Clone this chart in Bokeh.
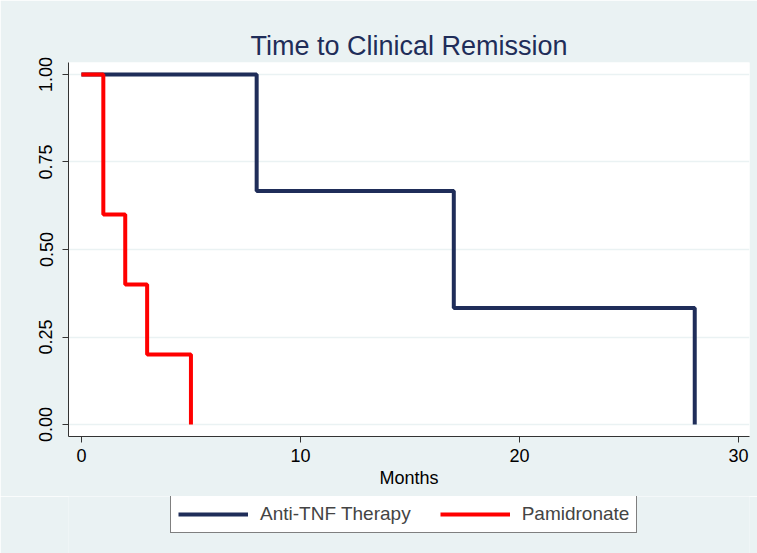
from bokeh.plotting import figure
from bokeh.models import Legend, LegendItem, FixedTicker, Range1d, Title
from bokeh.layouts import column
from bokeh.embed import file_html
from bokeh.resources import INLINE

# Data
tnf_time = [0, 8, 8, 17, 17, 28, 28]
tnf_surv = [1.0, 1.0, 0.6667, 0.6667, 0.3333, 0.3333, 0.0]
pam_time = [0, 1, 1, 2, 2, 3, 3, 5, 5]
pam_surv = [1.0, 1.0, 0.6, 0.6, 0.4, 0.4, 0.2, 0.2, 0.0]
x_ticks = [0, 10, 20, 30]
y_ticks = [0, 0.25, 0.5, 0.75, 1.0]
y_tick_labels = ["0.00", "0.25", "0.50", "0.75", "1.00"]
series_names = ["Anti-TNF Therapy", "Pamidronate"]

BG = "#eaf2f3"
NAVY = "#1f2d59"
RED = "#ff0000"
FONT = "Liberation Sans"

p = figure(frame_width=681, frame_height=374, output_backend="svg", toolbar_location=None,
           x_range=Range1d(-0.59, 30.5), y_range=Range1d(-0.034, 1.034),
           min_border_left=68, min_border_right=8, min_border_top=62,
           min_border_bottom=60)
p.border_fill_color = BG
p.background_fill_color = "white"
p.outline_line_color = None

p.title = Title(text="Time to Clinical Remission", align="center",
                text_font=FONT, text_font_size="27px", text_font_style="normal",
                text_color=NAVY, standoff=4)

r1 = p.line(tnf_time, tnf_surv, line_color=NAVY, line_width=4)
r2 = p.line(pam_time, pam_surv, line_color=RED, line_width=4)

p.xgrid.visible = False
p.ygrid.ticker = FixedTicker(ticks=y_ticks)
p.ygrid.grid_line_color = BG
p.ygrid.grid_line_width = 1.5

p.xaxis.ticker = FixedTicker(ticks=x_ticks)
p.yaxis.ticker = FixedTicker(ticks=y_ticks)
p.yaxis.major_label_overrides = {t: l for t, l in zip(y_ticks, y_tick_labels)}
p.yaxis.major_label_orientation = "vertical"
p.xaxis.axis_label = "Months"

for ax in (p.xaxis[0], p.yaxis[0]):
    ax.axis_line_color = "#333333"
    ax.axis_line_width = 1
    ax.major_tick_line_color = "#333333"
    ax.major_tick_out = 6
    ax.major_tick_in = 0
    ax.minor_tick_line_color = None
    ax.major_label_text_font = FONT
    ax.major_label_text_font_size = "18px"
    ax.major_label_text_color = "black"
    ax.axis_label_text_font = FONT
    ax.axis_label_text_font_size = "18px"
    ax.axis_label_text_font_style = "normal"
    ax.axis_label_text_color = "black"
p.xaxis.major_label_standoff = 6
p.yaxis.major_label_standoff = 10
p.xaxis.axis_label_standoff = 3

# Legend strip below the chart (frame aligned with the main plot)
p2 = figure(width=757, height=57, output_backend="svg", toolbar_location=None,
            x_axis_location=None, y_axis_location=None,
            x_range=Range1d(0, 1), y_range=Range1d(0, 1),
            min_border_left=68, min_border_right=8, min_border_top=0,
            min_border_bottom=0)
p2.border_fill_color = BG
p2.background_fill_color = BG
p2.outline_line_color = None
p2.grid.visible = False
# legend-only renderers, kept outside the visible range
l1 = p2.line([-5, -4], [-5, -4], line_color=NAVY, line_width=4)
l2 = p2.line([-5, -4], [-5, -4], line_color=RED, line_width=4)

legend = Legend(items=[LegendItem(label=series_names[0], renderers=[l1]),
                       LegendItem(label=series_names[1], renderers=[l2])],
                orientation="horizontal", location=(102, 20),
                label_text_font=FONT, label_text_font_size="19px",
                glyph_width=70, glyph_height=18, label_standoff=12,
                label_height=18, spacing=29, padding=7, margin=0,
                border_line_color="black", border_line_width=1,
                background_fill_color="white", background_fill_alpha=1.0)
p2.add_layout(legend, "center")

layout = column(p, p2, spacing=0)
open("out.html", "w").write(file_html(layout, INLINE))
